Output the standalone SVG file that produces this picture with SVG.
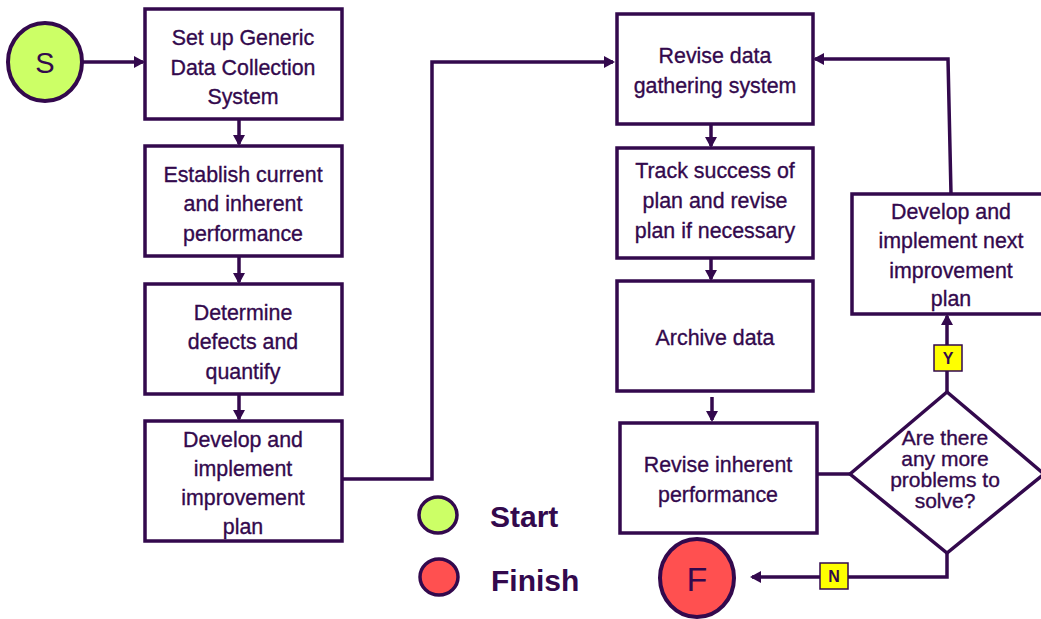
<svg xmlns="http://www.w3.org/2000/svg" width="1041" height="619" viewBox="0 0 1041 619">
<style>
.box{fill:#fff;stroke:#33094d;stroke-width:3.5}
.t{font-family:"Liberation Sans",Arial,sans-serif;font-size:23px;fill:#33094d;stroke:#33094d;stroke-width:0.35;text-anchor:middle}
.d{font-size:21px}
.c{stroke:#33094d;stroke-width:3.5;fill:none}
.lbl{fill:#ffff00;stroke:#33094d;stroke-width:1.5}
.lt{font-family:"Liberation Sans",Arial,sans-serif;font-weight:bold;font-size:16px;fill:#33094d;text-anchor:middle}
.leg{font-family:"Liberation Sans",Arial,sans-serif;font-weight:bold;font-size:30px;fill:#33094d}
.big{font-family:"Liberation Sans",Arial,sans-serif;font-size:34px;fill:#33094d;text-anchor:middle}
</style>
<defs>
<marker id="ah" markerWidth="12" markerHeight="12" refX="9" refY="6" orient="auto" markerUnits="userSpaceOnUse">
<path d="M0,0 L11,6 L0,12 z" fill="#33094d"/>
</marker>
</defs>
<g id="connectors">
<line class="c" x1="82" y1="62" x2="143" y2="62" marker-end="url(#ah)"/>
<line class="c" x1="239" y1="119" x2="239" y2="144" marker-end="url(#ah)"/>
<line class="c" x1="239" y1="256" x2="239" y2="282" marker-end="url(#ah)"/>
<line class="c" x1="239" y1="394" x2="239" y2="419" marker-end="url(#ah)"/>
<polyline class="c" points="342,479 432,479 432,62 613,62" marker-end="url(#ah)"/>
<line class="c" x1="711" y1="124" x2="711" y2="146" marker-end="url(#ah)"/>
<line class="c" x1="711" y1="258" x2="711" y2="279" marker-end="url(#ah)"/>
<line class="c" x1="712" y1="397" x2="712" y2="420" marker-end="url(#ah)"/>
<line class="c" x1="817" y1="474" x2="850" y2="474"/>
<polyline class="c" points="947,553 947,577 752,577" marker-end="url(#ah)"/>
<line class="c" x1="947" y1="392" x2="947" y2="316" marker-end="url(#ah)"/>
<polyline class="c" points="951,194 948,59 815,59" marker-end="url(#ah)"/>
<rect class="lbl" x="820" y="563" width="28" height="26"/>
<text class="lt" x="834" y="582">N</text>
<rect class="lbl" x="934" y="345" width="28" height="26"/>
<text class="lt" x="948" y="364">Y</text>
</g>
<g id="start">
<ellipse cx="45" cy="62" rx="37" ry="39" fill="#ccff66" stroke="#33094d" stroke-width="4"/>
<text class="big" x="45" y="73" style="font-size:29px">S</text>
</g>
<g id="n1">
<rect class="box" x="145" y="9" width="197" height="110"/>
<g transform="translate(243 0) scale(0.93 1)">
<text class="t" x="0" y="45">Set up Generic</text>
<text class="t" x="0" y="75">Data Collection</text>
<text class="t" x="0" y="104">System</text>
</g>
</g>
<g id="n2">
<rect class="box" x="145" y="146" width="197" height="110"/>
<g transform="translate(243 0) scale(0.93 1)">
<text class="t" x="0" y="182">Establish current</text>
<text class="t" x="0" y="211">and inherent</text>
<text class="t" x="0" y="241">performance</text>
</g>
</g>
<g id="n3">
<rect class="box" x="145" y="284" width="197" height="110"/>
<g transform="translate(243 0) scale(0.93 1)">
<text class="t" x="0" y="320">Determine</text>
<text class="t" x="0" y="349">defects and</text>
<text class="t" x="0" y="379">quantify</text>
</g>
</g>
<g id="n4">
<rect class="box" x="145" y="421" width="197" height="120"/>
<g transform="translate(243 0) scale(0.93 1)">
<text class="t" x="0" y="447">Develop and</text>
<text class="t" x="0" y="476">implement</text>
<text class="t" x="0" y="505">improvement</text>
<text class="t" x="0" y="534">plan</text>
</g>
</g>
<g id="legend">
<ellipse cx="438" cy="515" rx="19" ry="18" fill="#ccff66" stroke="#33094d" stroke-width="3.5"/>
<text class="leg" x="490" y="527">Start</text>
<ellipse cx="439" cy="577" rx="19" ry="18" fill="#ff5050" stroke="#33094d" stroke-width="3.5"/>
<text class="leg" x="491" y="591">Finish</text>
</g>
<g id="r1">
<rect class="box" x="617" y="14" width="196" height="110"/>
<g transform="translate(715 0) scale(0.93 1)">
<text class="t" x="0" y="63">Revise data</text>
<text class="t" x="0" y="93">gathering system</text>
</g>
</g>
<g id="r2">
<rect class="box" x="617" y="148" width="196" height="110"/>
<g transform="translate(715 0) scale(0.93 1)">
<text class="t" x="0" y="178">Track success of</text>
<text class="t" x="0" y="208">plan and revise</text>
<text class="t" x="0" y="238">plan if necessary</text>
</g>
</g>
<g id="r3">
<rect class="box" x="617" y="281" width="196" height="110"/>
<g transform="translate(715 0) scale(0.93 1)">
<text class="t" x="0" y="345">Archive data</text>
</g>
</g>
<g id="r4">
<rect class="box" x="620" y="423" width="197" height="110"/>
<g transform="translate(718 0) scale(0.93 1)">
<text class="t" x="0" y="472">Revise inherent</text>
<text class="t" x="0" y="502">performance</text>
</g>
</g>
<g id="decision">
<polygon class="box" points="850,474 947,392 1044,474 947,553"/>
<text class="t d" x="945" y="445">Are there</text>
<text class="t d" x="945" y="466">any more</text>
<text class="t d" x="945" y="487">problems to</text>
<text class="t d" x="945" y="508">solve?</text>
</g>
<g id="r5">
<rect class="box" x="852" y="194" width="200" height="120"/>
<g transform="translate(951 0) scale(0.93 1)">
<text class="t" x="0" y="219">Develop and</text>
<text class="t" x="0" y="248">implement next</text>
<text class="t" x="0" y="278">improvement</text>
<text class="t" x="0" y="306">plan</text>
</g>
</g>
<g id="finish">
<ellipse cx="697" cy="578" rx="37" ry="39" fill="#ff5050" stroke="#33094d" stroke-width="4"/>
<text class="big" x="697" y="591">F</text>
</g>
</svg>
